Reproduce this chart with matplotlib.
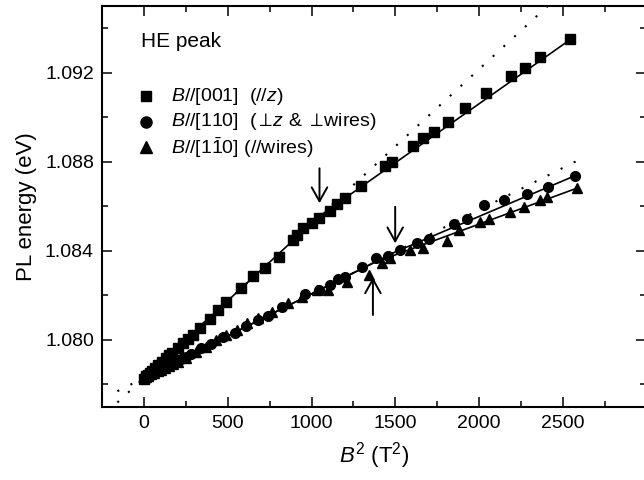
import matplotlib
matplotlib.use("Agg")
import matplotlib.pyplot as plt
from matplotlib.ticker import MultipleLocator, FormatStrFormatter

plt.rcParams['font.family'] = ['Liberation Sans', 'DejaVu Sans']
plt.rcParams['mathtext.fontset'] = 'custom'
plt.rcParams['mathtext.rm'] = 'Liberation Sans'
plt.rcParams['mathtext.it'] = 'Liberation Sans:italic'
plt.rcParams['mathtext.bf'] = 'Liberation Sans:bold'

# ---- data: B//[001] squares ----
sq_x = [0, 9, 20, 35, 44, 64, 85, 106, 128, 150, 167, 200, 229, 260, 291, 333, 392, 440,
        487, 578, 650, 722, 806, 888, 911, 951, 1001, 1047, 1110, 1154, 1200, 1294, 1439,
        1479, 1603, 1668, 1728, 1812, 1918, 2042, 2189, 2272, 2362, 2541]
sq_y = [1.07825, 1.07836, 1.07844, 1.07852, 1.07861, 1.07876, 1.07889, 1.07901, 1.07921,
        1.07934, 1.07939, 1.07965, 1.07987, 1.08006, 1.08024, 1.08054, 1.08094, 1.08136,
        1.08171, 1.08233, 1.08287, 1.08325, 1.08373, 1.08449, 1.08471, 1.08501, 1.08524,
        1.08546, 1.08581, 1.08610, 1.08636, 1.08693, 1.08782, 1.08800, 1.08872, 1.08908,
        1.08935, 1.08980, 1.09043, 1.09107, 1.09184, 1.09222, 1.09269, 1.09351]

# ---- data: B//[110] circles ----
ci_x = [0, 10, 22, 35, 50, 75, 95, 120, 145, 170, 195, 220, 250, 280, 340, 400, 470, 540,
        610, 680, 740, 822, 961, 1047, 1111, 1160, 1200, 1300, 1386, 1459, 1529, 1629,
        1702, 1848, 1928, 2027, 2151, 2287, 2410, 2571]
ci_y = [1.07829, 1.07834, 1.07838, 1.07843, 1.07849, 1.07860, 1.07866, 1.07876, 1.07886,
        1.07896, 1.07905, 1.07915, 1.07925, 1.07938, 1.07962, 1.07982, 1.08011, 1.08030,
        1.08063, 1.08088, 1.08109, 1.08150, 1.08206, 1.08224, 1.08247, 1.08272, 1.08284,
        1.08329, 1.08369, 1.08377, 1.08404, 1.08437, 1.08453, 1.08521, 1.08542, 1.08606,
        1.08628, 1.08654, 1.08688, 1.08737]

# ---- data: B//[1-10] triangles ----
tr_x = [0, 12, 25, 40, 60, 80, 100, 125, 150, 175, 200, 250, 310, 370, 430, 490, 553, 612,
        682, 762, 861, 941, 1031, 1100, 1210, 1340, 1420, 1469, 1589, 1668, 1808, 1878,
        2008, 2057, 2187, 2266, 2366, 2406, 2582]
tr_y = [1.07828, 1.07832, 1.07838, 1.07845, 1.07850, 1.07859, 1.07866, 1.07875, 1.07882,
        1.07893, 1.07902, 1.07920, 1.07945, 1.07970, 1.07998, 1.08022, 1.08045, 1.08075,
        1.08097, 1.08127, 1.08165, 1.08194, 1.08224, 1.08224, 1.08262, 1.08292, 1.08346,
        1.08368, 1.08404, 1.08412, 1.08446, 1.08494, 1.08531, 1.08542, 1.08576, 1.08598,
        1.08628, 1.08643, 1.08681]

# ---- fits (solid piecewise lines) ----
sq_fit_x = [0, 1047, 2546]
sq_fit_y = [1.0783, 1.08556, 1.0935]
ci_fit_x = [0, 1499, 2571]
ci_fit_y = [1.0783, 1.08395, 1.08737]
tr_fit_x = [0, 1366, 2582]
tr_fit_y = [1.0783, 1.08345, 1.08681]

# ---- low-field linear extrapolations (dotted) ----
dot_hi_x = [-160, 3000]
dot_hi_y = [1.0783 - 160 * 6.93e-6, 1.0783 + 3000 * 6.93e-6]
dot_lo_x = [-160, 2601]
dot_lo_y = [1.0783 - 160 * 3.77e-6, 1.0783 + 2601 * 3.77e-6]

# ---- arrows ----
arrow_x = [1047, 1499, 1366]
arrow_from = [1.08771, 1.08598, 1.08112]
arrow_to = [1.08614, 1.08434, 1.08281]

labels = [r"$B$//[001]  (//$z$)",
          r"$B$//[110]  (${\perp}\!z$ & ${\perp}\!$wires)",
          r"$B$//[1$\bar{1}$0] (//wires)"]

fig = plt.figure(figsize=(6.44, 4.8), dpi=100)
ax = fig.add_axes([102.3 / 644, 1 - 406.7 / 480, 543.4 / 644, 400.7 / 480])

ax.plot(dot_hi_x, dot_hi_y, color='k', lw=1.5, linestyle=(0, (1, 6)))
ax.plot(dot_lo_x, dot_lo_y, color='k', lw=1.5, linestyle=(0, (1, 6)))

ax.plot(sq_fit_x, sq_fit_y, color='k', lw=1.2)
ax.plot(ci_fit_x, ci_fit_y, color='k', lw=1.2)
ax.plot(tr_fit_x, tr_fit_y, color='k', lw=1.2)

ax.plot(sq_x, sq_y, 's', color='k', ms=6.5, lw=0)
ax.plot(ci_x, ci_y, 'o', color='k', ms=7, lw=0)
ax.plot(tr_x, tr_y, '^', color='k', ms=7.5, lw=0)

for xa, y0, y1 in zip(arrow_x, arrow_from, arrow_to):
    ax.annotate('', xy=(xa, y1), xytext=(xa, y0),
                arrowprops=dict(arrowstyle='->,head_length=0.5,head_width=0.28',
                                mutation_scale=20, lw=1.4, color='k',
                                shrinkA=0, shrinkB=0))

ax.set_xlim(-250, 2995)
ax.set_ylim(1.077, 1.095)
ax.xaxis.set_major_locator(MultipleLocator(500))
ax.xaxis.set_minor_locator(MultipleLocator(250))
ax.yaxis.set_major_locator(MultipleLocator(0.004))
ax.yaxis.set_minor_locator(MultipleLocator(0.002))
ax.yaxis.set_major_formatter(FormatStrFormatter('%.3f'))

ax.tick_params(which='both', direction='in', top=True, right=True, width=1.1)
ax.tick_params(which='major', length=7, labelsize=14)
ax.tick_params(which='minor', length=4.5)
ax.tick_params(axis='x', which='major', pad=6)
ax.tick_params(axis='y', which='major', pad=6)
for sp in ax.spines.values():
    sp.set_linewidth(1.5)

ax.set_xlabel(r"$B^2$ (T$^2$)", fontsize=16, labelpad=6)
ax.set_ylabel("PL energy (eV)", fontsize=16, labelpad=6)

ax.text((140.7 - 102.3) / 543.4, 1 - (41.7 - 6) / 400.7, "HE peak",
        transform=ax.transAxes, fontsize=15, va='center', ha='left')

markers = ['s', 'o', '^']
msizes = [7.5, 8, 8.5]
rows_y = [96, 121.7, 147.3]
for m, ms, ry, lab in zip(markers, msizes, rows_y, labels):
    yy = 1 - (ry - 6) / 400.7
    ax.plot([(145.7 - 102.3) / 543.4], [yy], m, color='k', ms=ms,
            transform=ax.transAxes, clip_on=False)
    ax.text((170.7 - 102.3) / 543.4, yy, lab, transform=ax.transAxes,
            fontsize=14, va='center', ha='left')

fig.savefig("out.png", dpi=100)
